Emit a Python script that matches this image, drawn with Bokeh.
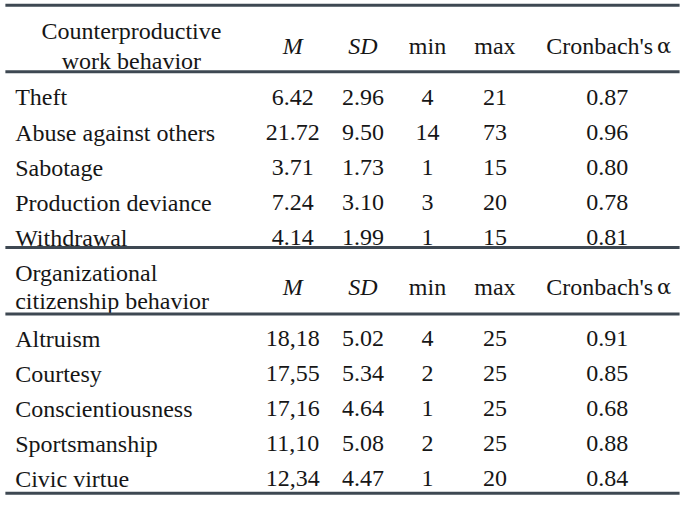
from bokeh.plotting import figure
from bokeh.models import ColumnDataSource, Range1d
from bokeh.core.properties import value
from bokeh.embed import file_html
from bokeh.resources import INLINE

# ---- data ----
cwb_header = ["Counterproductive", "work behavior"]
cwb_labels = ["Theft", "Abuse against others", "Sabotage", "Production deviance", "Withdrawal"]
cwb_M = ["6.42", "21.72", "3.71", "7.24", "4.14"]
cwb_SD = ["2.96", "9.50", "1.73", "3.10", "1.99"]
cwb_min = [4, 14, 1, 3, 1]
cwb_max = [21, 73, 15, 20, 15]
cwb_alpha = ["0.87", "0.96", "0.80", "0.78", "0.81"]

ocb_header = ["Organizational", "citizenship behavior"]
ocb_labels = ["Altruism", "Courtesy", "Conscientiousness", "Sportsmanship", "Civic virtue"]
ocb_M = ["18,18", "17,55", "17,16", "11,10", "12,34"]
ocb_SD = ["5.02", "5.34", "4.64", "5.08", "4.47"]
ocb_min = [4, 2, 1, 2, 1]
ocb_max = [25, 25, 25, 25, 20]
ocb_alpha = ["0.91", "0.85", "0.68", "0.88", "0.84"]

col_heads = ["M", "SD", "min", "max", "Cronbach's"]
alpha_symbol = "\u03b1"
col_italic = [True, True, False, False, False]

# ---- layout ----
FS = "24px"
TXT = "#161616"
LINE = "#3e4852"
col_x = [299, 371, 437, 506, 621]
label_x = 15
DY = -1.5

plain = dict(x=[], y=[], t=[], a=[])
ital = dict(x=[], y=[], t=[], a=[])
greek = dict(x=[], y=[], t=[], a=[])


def add(d, x, y, t, a):
    d["x"].append(x); d["y"].append(y + DY); d["t"].append(t); d["a"].append(a)


def block(header, header_ys, header_x, header_align, head_y, labels, M, SD, mn, mx, al, y0, pitch):
    for h, hy in zip(header, header_ys):
        add(plain, header_x, hy, h, header_align)
    for k, (cx, h, it) in enumerate(zip(col_x, col_heads, col_italic)):
        if k == len(col_heads) - 1:
            add(plain, 668, head_y, h, "right")
            add(greek, 672, head_y, alpha_symbol, "left")
        else:
            add(ital if it else plain, cx, head_y, h, "center")
    cols = [M, SD, [str(v) for v in mn], [str(v) for v in mx], al]
    for i, lab in enumerate(labels):
        y = y0 + i * pitch
        add(plain, label_x, y, lab, "left")
        for cx, c in zip(col_x, cols):
            add(plain, cx, y, c[i], "center")


block(cwb_header, [33.3, 63.5], 134, "center", 48.5,
      cwb_labels, cwb_M, cwb_SD, cwb_min, cwb_max, cwb_alpha, 101.5, 36.25)
block(ocb_header, [282.5, 311.5], label_x, "left", 297.5,
      ocb_labels, ocb_M, ocb_SD, ocb_min, ocb_max, ocb_alpha, 350.7, 36.1)

p = figure(width=683, height=501, x_range=Range1d(0, 699), y_range=Range1d(517, 0),
           x_axis_type=None, y_axis_type=None, toolbar_location=None, output_backend="svg",
           min_border=0, outline_line_color=None)

p.text(x="x", y="y", text="t", text_align="a", source=ColumnDataSource(plain),
       text_font=value("Liberation Serif"), text_font_size=FS, text_color=TXT,
       text_baseline="alphabetic")
p.text(x="x", y="y", text="t", text_align="a", source=ColumnDataSource(ital),
       text_font=value("Liberation Serif"), text_font_size=FS, text_color=TXT,
       text_baseline="alphabetic", text_font_style="italic")
p.text(x="x", y="y", text="t", text_align="a", source=ColumnDataSource(greek),
       text_font=value("DejaVu Serif"), text_font_size="21px", text_color=TXT,
       text_baseline="alphabetic")

rule_y = [5, 73.5, 255, 323.5, 508.5]
p.segment(x0=[5] * len(rule_y), x1=[695] * len(rule_y), y0=rule_y, y1=rule_y,
          line_color=LINE, line_width=3)

open("out.html", "w").write(file_html(p, INLINE))
